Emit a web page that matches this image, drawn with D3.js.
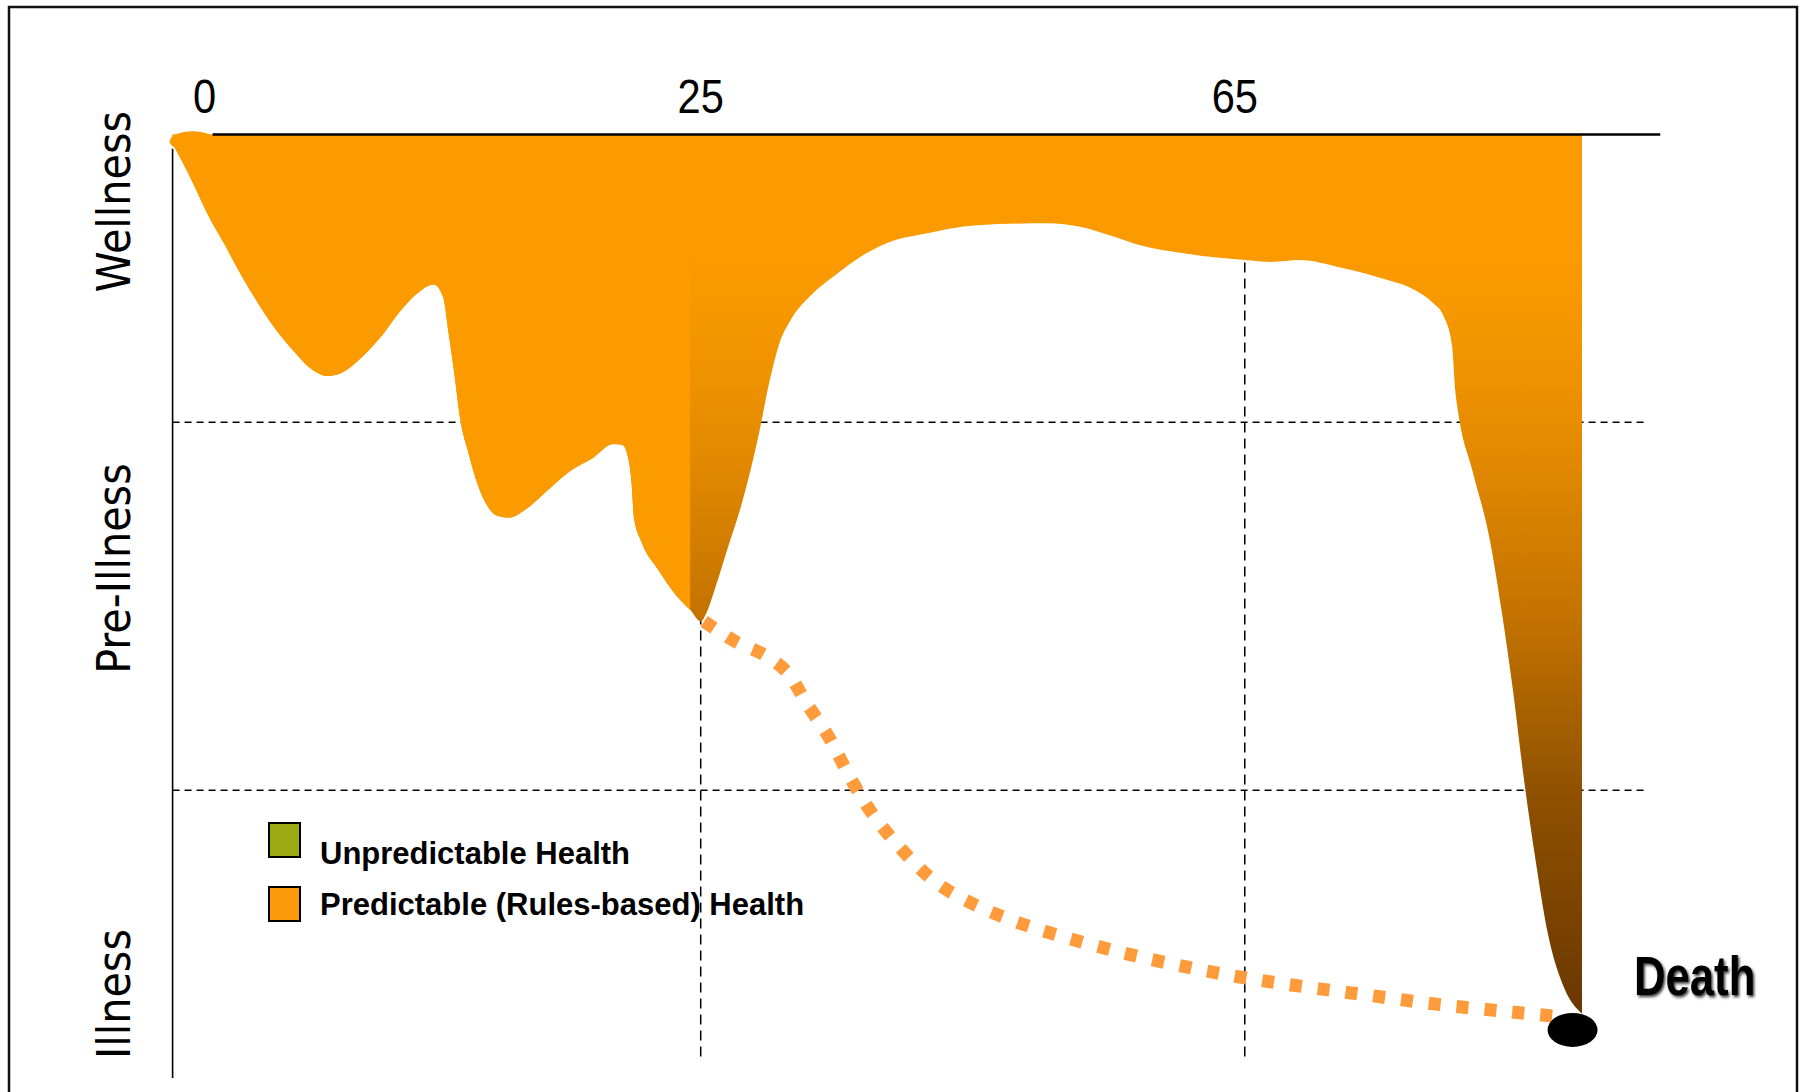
<!DOCTYPE html>
<html>
<head>
<meta charset="utf-8">
<script src="https://cdn.jsdelivr.net/npm/d3@7"></script>
<style>
  html, body { margin: 0; padding: 0; background: #fff; }
  svg { display: block; }
</style>
</head>
<body>
<svg id="chart" width="1804" height="1092"></svg>
<script>
// ---------------- data ----------------
const ageBreaks = [0, 25, 65, 90];
const tickAges = [0, 25, 65];
const tickLabels = ["0", "25", "65"];
const bandLevels = [69.5, 30.5];
const bandLabels = ["Wellness", "Pre-Illness", "Illness"];
const bandLabelLevels = [92.9, 54.0, 8.9];

// lower edge of the health curve (age, health level 0..100)
const healthAges = [0, 0.44, 0.98, 1.63, 2.45, 3.27, 4.08, 4.90, 5.72, 6.54, 7.35, 8.06, 8.71, 9.80, 10.89, 11.71, 12.36, 12.80, 13.07, 13.34, 13.62, 14.00, 14.43, 14.81, 15.36, 15.96, 16.67, 17.70, 18.79, 19.88, 20.86, 21.30, 21.57, 21.73, 21.84, 22.22, 22.98, 23.86, 24.51, 25.0,
  25.42, 26.10, 26.95, 27.88, 28.64, 29.31, 29.99, 30.75, 31.68, 33.12, 34.81, 36.92, 39.04, 41.15, 45.38, 50.45, 52.99, 55.11, 57.22, 60.60, 65.0, 66.96, 69.10, 72.08, 75.07, 77.63, 78.91, 79.76, 80.36, 80.61, 80.87, 81.89, 83.17, 84.03, 84.88, 85.73, 86.59, 87.44, 88.72, 90];
const healthLevels = [99.0, 97.2, 94.8, 91.7, 88.4, 85.0, 82.0, 79.3, 77.1, 75.2, 74.4, 74.8, 75.9, 78.4, 81.6, 83.4, 84.1, 82.8, 78.9, 74.6, 69.8, 66.3, 63.0, 61.0, 59.6, 59.4, 60.2, 62.2, 64.3, 65.7, 67.2, 67.1, 65.7, 63.0, 59.4, 56.7, 53.9, 51.1, 49.6, 48.4,
  49.3, 52.1, 56.0, 60.2, 64.3, 68.5, 73.4, 77.7, 80.5, 83.0, 85.0, 87.2, 88.7, 89.4, 90.4, 90.6, 90.2, 89.3, 88.3, 87.4, 86.7, 86.5, 86.7, 85.9, 84.8, 83.5, 82.2, 80.7, 77.7, 72.8, 70.1, 64.3, 57.0, 49.6, 41.1, 31.3, 22.8, 15.5, 9.4, 6.8];
const predictableFromAge = 24.5;

// dotted "unpredictable" path after age 25
const riskAges = [25.25, 27.62, 29.74, 31.43, 32.70, 34.39, 36.08, 37.77, 40.31, 42.42, 44.96, 47.92, 51.13, 55.95, 60.60, 65.07, 69.78, 74.56, 79.33, 84.11, 88.29];
const riskLevels = [48.4, 46.2, 44.8, 42.9, 39.9, 36.2, 31.6, 27.7, 23.4, 20.6, 18.5, 16.7, 15.2, 13.3, 11.8, 10.6, 9.6, 8.7, 7.8, 7.1, 6.5];

const deathAge = 89.3, deathLevel = 5.1, deathLabel = "Death";
const legendLabels = ["Unpredictable Health", "Predictable (Rules-based) Health"];
const legendColors = ["#9caa14", "#fb9b0c"];

// ---------------- layout ----------------
const svg = d3.select("#chart");
const x = d3.scaleLinear().domain(ageBreaks).range([172.6, 700.7, 1244.8, 1582]);
const y = d3.scaleLinear().domain([0, 100]).range([1078, 134.6]);
const axisEndAge = 95.8, gridEndAge = 94.7, vGridBottom = 1.8;
const sans = '"Liberation Sans", Arial, sans-serif';

svg.append("rect").attr("width", 1804).attr("height", 1092).attr("fill", "#fff");
svg.append("rect").attr("x", 9).attr("y", 7).attr("width", 1788).attr("height", 1120)
  .attr("fill", "none").attr("stroke", "#111").attr("stroke-width", 2.5);

const defs = svg.append("defs");
const grad = defs.append("linearGradient").attr("id", "g").attr("gradientUnits", "userSpaceOnUse")
  .attr("x1", 0).attr("x2", 0).attr("y1", y(100)).attr("y2", y(6.8));
[[0, "#fb9b00"], [0.161, "#fa9a00"], [0.266, "#f09300"], [0.358, "#e48a00"], [0.554, "#c27200"], [0.751, "#8f5100"], [1, "#6a3700"]]
  .forEach(([o, c]) => grad.append("stop").attr("offset", o).attr("stop-color", c));
defs.append("clipPath").attr("id", "leftclip").append("rect")
  .attr("x", 0).attr("y", 0).attr("width", x(predictableFromAge)).attr("height", 1092);
const sh = defs.append("filter").attr("id", "shadow").attr("x", "-20%").attr("y", "-20%").attr("width", "140%").attr("height", "140%");
sh.append("feDropShadow").attr("dx", 2).attr("dy", 2).attr("stdDeviation", 1.6).attr("flood-color", "#222").attr("flood-opacity", 0.9);

// gridlines
svg.selectAll(".hg").data(bandLevels).join("line")
  .attr("x1", x(0)).attr("x2", x(gridEndAge)).attr("y1", d => y(d)).attr("y2", d => y(d))
  .attr("stroke", "#000").attr("stroke-width", 1.5).attr("stroke-dasharray", "7 5");
svg.selectAll(".vg").data(tickAges.slice(1)).join("line")
  .attr("x1", d => x(d)).attr("x2", d => x(d)).attr("y1", y(100)).attr("y2", y(vGridBottom))
  .attr("stroke", "#000").attr("stroke-width", 1.5).attr("stroke-dasharray", "10 6");

// health area
const pts = healthAges.map((a, i) => [a, healthLevels[i]]);
const area = d3.area().x(d => x(d[0])).y0(d => y(d[1])).y1(y(100)).curve(d3.curveMonotoneX);
svg.append("path").datum(pts).attr("d", area).attr("fill", "url(#g)");
svg.append("path").datum(pts).attr("d", area).attr("fill", "#fc9b00").attr("clip-path", "url(#leftclip)");
// rounded start blob at the top-left corner
svg.append("ellipse").attr("cx", x(0) + 20).attr("cy", y(99.3)).attr("rx", 23).attr("ry", 10).attr("fill", "#fc9b00");

// axes lines
svg.append("line").attr("x1", x(0) + 40).attr("x2", x(axisEndAge)).attr("y1", y(100)).attr("y2", y(100))
  .attr("stroke", "#000").attr("stroke-width", 2.5);
svg.append("line").attr("x1", x(0)).attr("x2", x(0)).attr("y1", y(98.5)).attr("y2", y(0))
  .attr("stroke", "#000").attr("stroke-width", 1.6);

// tick labels (condensed)
const tickNudge = [32, 0, -10];
svg.selectAll(".tl").data(tickAges).join("text")
  .attr("transform", (d, i) => `translate(${x(d) + tickNudge[i]},113) scale(0.85,1)`)
  .attr("text-anchor", "middle").attr("font-family", sans).attr("font-size", 49).attr("fill", "#000")
  .text((d, i) => tickLabels[i]);

// band labels
svg.selectAll(".bl").data(bandLabels).join("text")
  .attr("transform", (d, i) => `translate(130,${y(bandLabelLevels[i])}) rotate(-90)`)
  .attr("text-anchor", "middle").attr("font-family", '"DejaVu Sans Condensed", "DejaVu Sans", sans-serif')
  .attr("font-size", 46).attr("fill", "#000").text(d => d);

// dotted path
const rpts = riskAges.map((a, i) => [a, riskLevels[i]]);
svg.append("path").datum(rpts)
  .attr("d", d3.line().x(d => x(d[0])).y(d => y(d[1])).curve(d3.curveCatmullRom.alpha(0.5)))
  .attr("fill", "none").attr("stroke", "#ff9b3b").attr("stroke-width", 13).attr("stroke-dasharray", "12 16");

// death marker
svg.append("ellipse").attr("cx", x(deathAge)).attr("cy", y(deathLevel)).attr("rx", 25).attr("ry", 17).attr("fill", "#000");
svg.append("text").attr("transform", "translate(1634,995) scale(0.78,1)").attr("font-family", sans).attr("font-weight", "bold")
  .attr("font-size", 56).attr("fill", "#000").attr("filter", "url(#shadow)").text(deathLabel);

// legend
const legendBoxY = [823, 887], legendTextY = [864, 915];
const lg = svg.selectAll(".lg").data(legendLabels).join("g");
lg.append("rect").attr("x", 269).attr("y", (d, i) => legendBoxY[i]).attr("width", 31).attr("height", 34)
  .attr("fill", (d, i) => legendColors[i]).attr("stroke", "#000").attr("stroke-width", 2);
lg.append("text").attr("x", 320).attr("y", (d, i) => legendTextY[i]).attr("font-family", sans)
  .attr("font-weight", "bold").attr("font-size", 31).attr("fill", "#000").text(d => d);
</script>
</body>
</html>
